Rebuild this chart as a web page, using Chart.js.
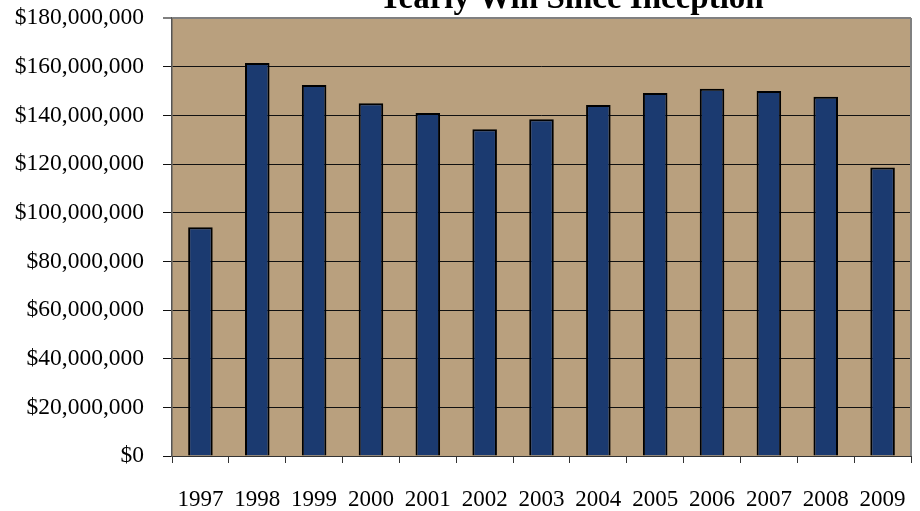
<!DOCTYPE html>
<html>
<head>
<meta charset="utf-8">
<script src="https://cdn.jsdelivr.net/npm/chart.js@4.4.0/dist/chart.umd.min.js"></script>
<style>
  html, body { margin: 0; padding: 0; background: #fff; }
  #wrap { width: 920px; height: 511px; }
</style>
</head>
<body>
<div id="wrap"><canvas id="winChart" width="920" height="511"></canvas></div>
<script>
// data
const years = ['1997', '1998', '1999', '2000', '2001', '2002', '2003', '2004', '2005', '2006', '2007', '2008', '2009'];
const yearlyWin = [94000000, 161500000, 152500000, 145000000, 141000000, 134300000, 138400000, 144200000, 149200000, 150900000, 150000000, 147600000, 118600000];
const yMax = 180000000;
const yStep = 20000000;

const titleText = 'Yearly Win Since Inception';

// tan plot background
const plotBg = {
  id: 'plotBg',
  beforeDraw(chart) {
    const { ctx, chartArea: a } = chart;
    ctx.save();
    ctx.fillStyle = '#B9A07E';
    ctx.fillRect(a.left, a.top, a.right - a.left, a.bottom - a.top);
    ctx.restore();
  },
  afterDraw(chart) {
    const { ctx, chartArea: a } = chart;
    ctx.save();
    // gray frame on the right side
    ctx.strokeStyle = '#808080';
    ctx.lineWidth = 2;
    ctx.beginPath();
    ctx.moveTo(a.right, a.top);
    ctx.lineTo(a.right, a.bottom);
    ctx.stroke();
    // title, partly above the top edge like the original
    ctx.fillStyle = '#000';
    ctx.font = 'bold 33px "Liberation Serif", serif';
    ctx.textAlign = 'center';
    ctx.textBaseline = 'alphabetic';
    ctx.fillText(titleText, 571, 8);
    ctx.restore();
  }
};

const ctx = document.getElementById('winChart').getContext('2d');
const winChart = new Chart(ctx, {
  type: 'bar',
  data: {
    labels: years,
    datasets: [{
      label: 'Yearly Win',
      data: yearlyWin,
      backgroundColor: '#1B3A70',
      borderColor: '#000',
      borderWidth: 2,
      categoryPercentage: 0.8,
      barPercentage: 0.54
    }]
  },
  options: {
    responsive: false,
    animation: false,
    layout: { padding: { top: 18, right: 9, left: 0, bottom: 0 } },
    plugins: {
      legend: { display: false },
      title: { display: false },
      tooltip: { enabled: false }
    },
    scales: {
      x: {
        grid: {
          offset: true,
          drawOnChartArea: false,
          tickLength: 7,
          color: '#333'
        },
        border: { color: '#333', width: 1 },
        ticks: {
          color: '#000',
          padding: 23,
          maxRotation: 0,
          font: { family: '"Liberation Serif", serif', size: 23 }
        },
        afterFit(scale) {
          scale.height = 55;
          scale.paddingLeft = 0;
          scale.paddingRight = 0;
        }
      },
      y: {
        min: 0,
        max: yMax,
        grid: {
          tickLength: 9,
          color: (c) => (c.tick && c.tick.value === yMax ? '#808080' : '#111'),
          lineWidth: (c) => (c.tick && c.tick.value === yMax ? 2 : 1)
        },
        border: { color: '#555', width: 1.5 },
        ticks: {
          stepSize: yStep,
          color: '#000',
          padding: 19,
          font: { family: '"Liberation Serif", serif', size: 23.5 },
          callback: (v) => '$' + Number(v).toLocaleString('en-US')
        },
        afterFit(scale) {
          scale.width = 172;
          scale.paddingTop = 0;
          scale.paddingBottom = 0;
        }
      }
    }
  },
  plugins: [plotBg]
});
</script>
</body>
</html>
